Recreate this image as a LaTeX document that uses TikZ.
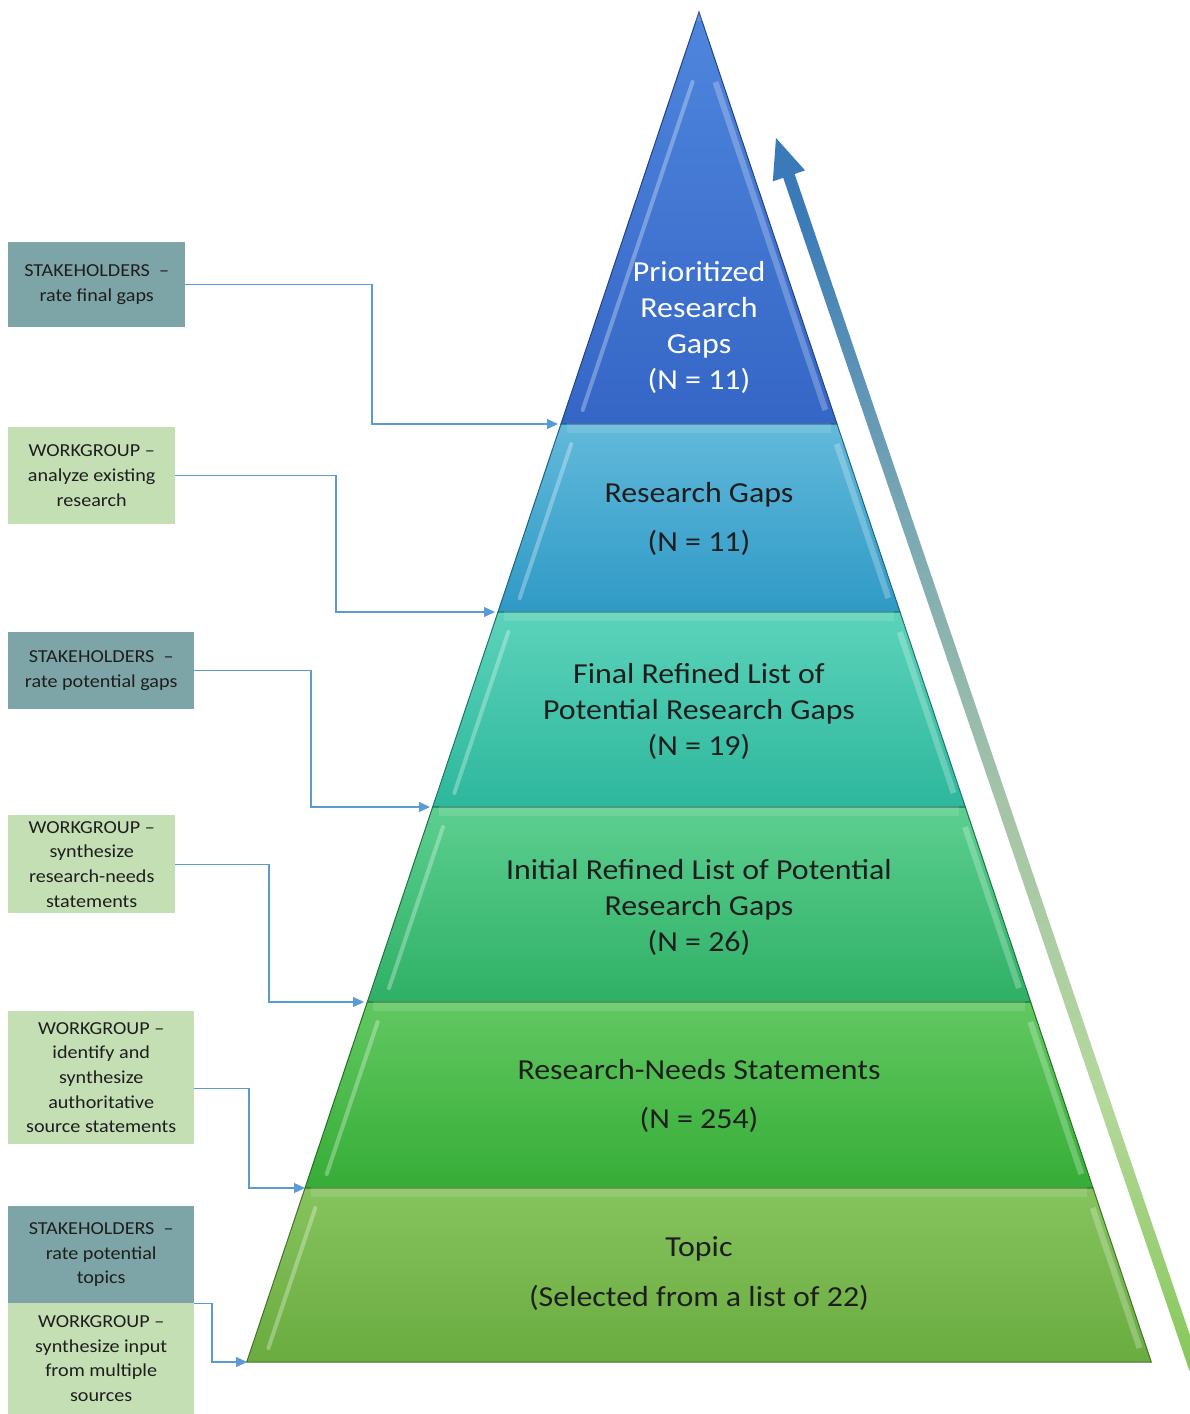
\documentclass[tikz,border=0pt]{standalone}
\usepackage{fontspec}
\setmainfont[FakeStretch=1.1]{Carlito}
\usetikzlibrary{arrows.meta,calc}
\definecolor{lAt}{HTML}{4F86DD}\definecolor{lAb}{HTML}{3566C6}
\definecolor{lBt}{HTML}{62B9DB}\definecolor{lBb}{HTML}{2F9AC6}
\definecolor{lCt}{HTML}{5CD3BB}\definecolor{lCb}{HTML}{2DB79C}
\definecolor{lDt}{HTML}{5CCF90}\definecolor{lDb}{HTML}{2FB066}
\definecolor{lEt}{HTML}{62C862}\definecolor{lEb}{HTML}{36AD36}
\definecolor{lFt}{HTML}{86C35E}\definecolor{lFb}{HTML}{6AAC40}
\definecolor{stakec}{HTML}{7DA5A7}
\definecolor{workc}{HTML}{C5DFB4}
\definecolor{connc}{HTML}{5B9BD5}
\definecolor{txtc}{HTML}{1E1E1E}
\definecolor{agreen}{HTML}{86C858}
\definecolor{alight}{HTML}{B5D89C}
\definecolor{amid}{HTML}{A5C4A8}
\definecolor{agblue}{HTML}{78A7B4}
\definecolor{ablue}{HTML}{3A7AB8}
\pgfdeclareverticalshading{arrowshade}{100bp}{color(0bp)=(agreen); color(25bp)=(agreen); color(36bp)=(alight); color(48bp)=(amid); color(60bp)=(agblue); color(72bp)=(ablue); color(100bp)=(ablue)}
\begin{document}
\begin{tikzpicture}[x=1pt,y=-1pt,
  boxbase/.style={anchor=north west, inner sep=0pt, align=center, text=txtc,
    font=\fontsize{18.3}{24.7}\selectfont},
  stakebox/.style={boxbase, fill=stakec},
  workbox/.style={boxbase, fill=workc},
  leveltext/.style={align=center, text=txtc, inner sep=0pt,
    font=\fontsize{29}{36}\selectfont},
  conn/.style={draw=connc, line width=1.3pt, -{Triangle[length=11pt,width=10pt]}}]
\useasboundingbox (0,0) rectangle (1190,1414);
\fill[white] (0,0) rectangle (1190,1414);

% pyramid levels
\foreach \ya/\yb/\ct/\cb [count=\i] in {12/424/lAt/lAb, 424/612/lBt/lBb, 612/807/lCt/lCb, 807/1002/lDt/lDb, 1002/1188/lEt/lEb, 1188/1362/lFt/lFb}{
  \pgfmathsetmacro\xlt{699-0.335*(\ya-12)}
  \pgfmathsetmacro\xrt{699+0.335*(\ya-12)}
  \pgfmathsetmacro\xlb{699-0.335*(\yb-12)}
  \pgfmathsetmacro\xrb{699+0.335*(\yb-12)}
  \shade[top color=\ct, bottom color=\cb] (\xlt,\ya) -- (\xrt,\ya) -- (\xrb,\yb) -- (\xlb,\yb) -- cycle;
  \draw[\cb!65!black, line width=1pt] (\xlt,\ya) -- (\xrt,\ya) -- (\xrb,\yb) -- (\xlb,\yb) -- cycle;
  \pgfmathsetmacro\ys{\ya+(\i==1 ? 70 : 20)}
  \pgfmathsetmacro\ye{\yb-14}
  \pgfmathsetmacro\xls{699-0.335*(\ys-12)+17}
  \pgfmathsetmacro\xle{699-0.335*(\ye-12)+17}
  \pgfmathsetmacro\xrs{699+0.335*(\ys-12)-7}
  \pgfmathsetmacro\xre{699+0.335*(\ye-12)-7}
  \draw[white, opacity=0.3, line width=4pt, line cap=round] (\xls,\ys) -- (\xle,\ye);
  \draw[white, opacity=0.25, line width=6pt] (\xrs,\ys) -- (\xre,\ye);
  \draw[white, opacity=0.12, line width=10pt] (\xlt+6,\ya+4) -- (\xrt-6,\ya+4);
}

% level texts
\node[leveltext, text=white] (t1) at (699,327) {Prioritized\\Research\\Gaps\\(N = 11)};
\node[leveltext] (t2) at (699,519) {Research Gaps\\[13pt](N = 11)};
\node[leveltext] (t3) at (699,711) {Final Refined List of\\Potential Research Gaps\\(N = 19)};
\node[leveltext] (t4) at (699,907) {Initial Refined List of Potential\\Research Gaps\\(N = 26)};
\node[leveltext] (t5) at (699,1096) {Research-Needs Statements\\[13pt](N = 254)};
\node[leveltext] (t6) at (699,1274) {Topic\\[14pt](Selected from a list of 22)};

% connector targets (left corners of levels)
\coordinate (k1) at (558,424);
\coordinate (k2) at (495,612);
\coordinate (k3) at (430,807);
\coordinate (k4) at (364,1002);
\coordinate (k5) at (305,1188);
\coordinate (k6) at (247,1362);

% left boxes
\node[stakebox, minimum width=177pt, minimum height=85pt] (b1) at (8,242) {STAKEHOLDERS~~–\\rate final gaps};
\node[workbox, minimum width=167pt, minimum height=97pt] (b2) at (8,427) {WORKGROUP –\\analyze existing\\research};
\node[stakebox, minimum width=186pt, minimum height=77pt] (b3) at (8,632) {STAKEHOLDERS~~–\\rate potential gaps};
\node[workbox, minimum width=167pt, minimum height=98pt] (b4) at (8,815) {WORKGROUP –\\synthesize\\research-needs\\statements};
\node[workbox, minimum width=186pt, minimum height=133pt] (b5) at (8,1011) {WORKGROUP –\\identify and\\synthesize\\authoritative\\source statements};
\node[stakebox, minimum width=186pt, minimum height=97pt] (b6) at (8,1206) {STAKEHOLDERS~~–\\rate potential\\topics};
\node[workbox, minimum width=186pt, minimum height=111pt] (b7) at (8,1303) {WORKGROUP –\\synthesize input\\from multiple\\sources};

% connectors
\draw[conn] (b1.east) -| (372,424) -- (k1);
\draw[conn] (b2.east) -| (336,612) -- (k2);
\draw[conn] (b3.east) -| (311,807) -- (k3);
\draw[conn] (b4.east) -| (269,1002) -- (k4);
\draw[conn] ([yshift=-10.5pt]b5.east) -| (249,1188) -- (k5);
\draw[conn] (b6.south east) -| (212,1362) -- (k6);

% big rising arrow
\begin{scope}
\clip (0,0) rectangle (1190,1414);
\shade[shading=arrowshade] (776,138) -- (805,170.4) -- (794.6,174.0) -- (1200.8,1366.9) -- (1189.4,1370.7) -- (783.2,177.8) -- (772.8,181.4) -- cycle;
\end{scope}
\end{tikzpicture}
\end{document}
